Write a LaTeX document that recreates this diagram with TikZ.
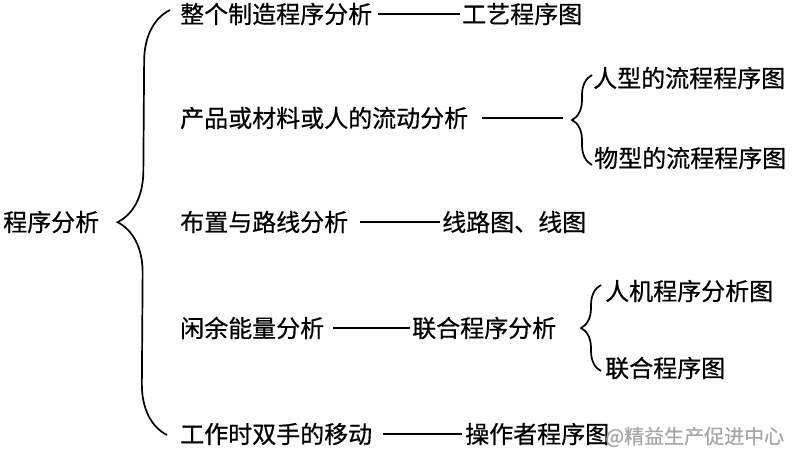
\documentclass[tikz,border=0pt]{standalone}
\usepackage{fontspec}
\setmainfont{Noto Sans CJK SC}[FakeBold=0.6,AutoFakeBold=0.6]
\usetikzlibrary{decorations.pathreplacing}

\begin{document}
\begin{tikzpicture}[x=1pt,y=-1pt,
  item/.style={anchor=west,inner sep=0pt,font=\fontsize{24}{28}\selectfont\bfseries},
  link/.style={line width=1.7pt},
  curly/.style={line width=1.7pt,decorate,decoration={brace,amplitude=#1}}]
\useasboundingbox (0,0) rectangle (800,458);

% Root
\node[item] (root) at (3,222) {程序分析};

% First level
\node[item] (a1) at (180,14) {整个制造程序分析};
\node[item] (a2) at (180,118) {产品或材料或人的流动分析};
\node[item] (a3) at (180,222) {布置与路线分析};
\node[item] (a4) at (180,328) {闲余能量分析};
\node[item] (a5) at (180,434) {工作时双手的移动};

% Results
\node[item] (b1) at (462,14) {工艺程序图};
\node[item] (b3) at (442,222) {线路图、线图};
\node[item] (b4) at (412,328) {联合程序分析};
\node[item] (b5) at (465,434) {操作者程序图};

% Second level
\node[item] (c1) at (593,78) {人型的流程程序图};
\node[item] (c2) at (594,158) {物型的流程程序图};
\node[item] (d1) at (605,291) {人机程序分析图};
\node[item] (d2) at (605,368) {联合程序图};

% Braces
\draw[curly=51pt] ([xshift=-13pt,yshift=-1pt]a5.west) -- ([xshift=-10pt,yshift=4pt]a1.west);
\draw[curly=20pt] ([xshift=-2pt,yshift=-7pt]c2.west) -- ([xshift=-1pt,yshift=3pt]c1.west);
\draw[curly=20pt] ([xshift=-4pt,yshift=-3pt]d2.west) -- ([xshift=-4pt,yshift=6pt]d1.west);

% Dashes
\coordinate (tip1) at (563,118);
\draw[link,shorten <=6pt,shorten >=2pt] (a1.east) -- (b1.west);
\draw[link,shorten <=14pt] (a2.east) -- (tip1);
\draw[link,shorten <=12pt,shorten >=2pt] (a3.east) -- (b3.west);
\draw[link,shorten <=9pt,shorten >=2pt] (a4.east) -- (b4.west);
\draw[link,shorten <=11pt,shorten >=3pt] (a5.east) -- (b5.west);

% Watermark
\node[anchor=west,inner sep=0pt,font=\fontsize{20}{22}\selectfont,text=gray!70] (mark) at (605,437) {@精益生产促进中心};

\end{tikzpicture}
\end{document}
